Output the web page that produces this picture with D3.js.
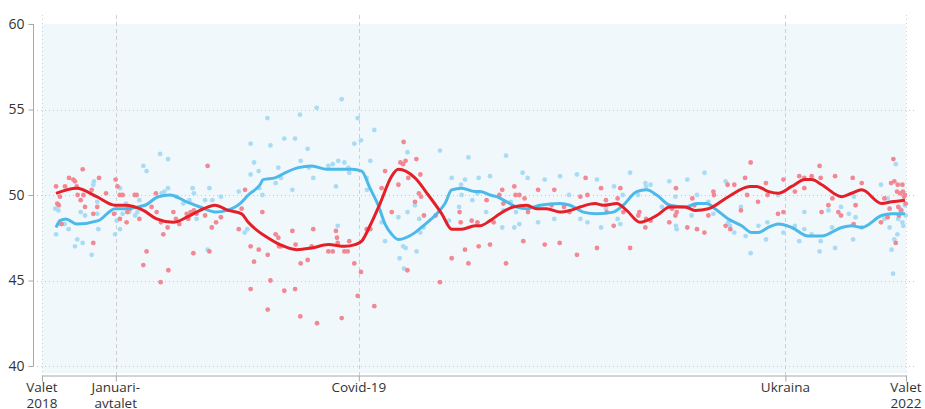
<!DOCTYPE html>
<html>
<head>
<meta charset="utf-8">
<script src="https://cdn.jsdelivr.net/npm/d3@7"></script>
<style>
  html, body { margin: 0; padding: 0; background: #ffffff; }
  svg { display: block; }
  text { font-family: "Open Sans", "Noto Sans", sans-serif; fill: #333333; }
</style>
</head>
<body>
<svg id="chart" width="925" height="409"></svg>
<script>
// x values are months since the 2018 election (Valet 2018 = 0, Valet 2022 = 48)
const yTicks = [40, 45, 50, 55, 60];
const eventMonths = [0, 4.1, 17.6, 41.3, 48];
const eventLabels = [["Valet", "2018"], ["Januari-", "avtalet"], ["Covid-19"], ["Ukraina"], ["Valet", "2022"]];

const redTrend = [
  [0.78,50.1],[1.93,50.4],[3.04,49.9],[4.06,49.4],[4.61,49.4],[5.63,49.1],[6.37,48.6],[7.29,48.4],
  [8.04,48.7],[8.78,49.1],[9.61,49.4],[10.35,49.1],[11.09,48.9],[11.46,48.4],[12.11,47.8],[12.39,47.6],
  [13.22,47.1],[14.15,46.8],[14.98,46.9],[15.91,47.1],[16.83,47.0],[17.39,47.1],[17.76,47.3],[18.22,48.2],
  [18.78,49.5],[19.43,51.1],[19.79,51.5],[20.72,51.0],[21.46,50.0],[22.21,48.9],[22.76,48.0],[23.32,48.0],
  [24.06,48.2],[24.33,48.2],[24.89,48.5],[25.44,48.9],[26.18,49.3],[26.93,49.4],[27.48,49.2],[28.04,49.2],
  [28.78,49.0],[29.33,49.1],[29.89,49.3],[30.72,49.5],[31.18,49.4],[31.93,49.5],[32.48,49.1],[33.22,48.4],
  [33.59,48.5],[34.15,48.8],[34.89,49.3],[35.72,49.3],[36.28,49.1],[37.02,49.2],[38.13,49.9],[39.33,50.5],
  [39.71,50.5],[40.37,50.2],[40.91,50.1],[41.65,50.5],[42.39,50.9],[42.76,50.9],[43.32,50.6],[44.43,49.9],
  [44.98,50.1],[45.54,50.3],[46.65,49.5],[47.2,49.6],[47.94,49.7]
];

const blueTrend = [
  [0.78,48.1],[1.0,48.5],[1.33,48.6],[1.93,48.3],[3.13,48.5],[4.06,49.2],[4.61,49.2],[5.72,49.4],
  [6.46,49.9],[7.11,50.0],[8.04,49.6],[8.78,49.3],[9.71,49.0],[10.26,49.1],[11.0,49.5],[11.46,50.0],
  [12.11,50.6],[12.29,50.9],[12.94,51.0],[13.5,51.3],[14.24,51.6],[14.98,51.7],[15.82,51.5],[16.37,51.5],
  [17.21,51.5],[17.76,51.4],[18.22,50.4],[18.68,49.4],[19.06,48.3],[19.43,47.7],[19.79,47.4],[20.72,47.8],
  [21.18,48.2],[21.93,48.9],[22.39,49.5],[22.76,50.3],[23.32,50.4],[24.06,50.2],[24.33,50.2],[24.89,50.0],
  [25.26,49.9],[25.82,49.6],[26.37,49.3],[26.93,49.2],[27.67,49.4],[28.78,49.5],[29.33,49.4],[30.07,49.0],
  [30.82,48.9],[31.74,49.0],[32.29,49.4],[33.04,50.2],[33.59,50.3],[34.15,50.0],[34.89,49.4],[35.72,49.3],
  [36.37,49.5],[36.93,49.5],[37.39,49.2],[38.13,48.6],[38.87,48.2],[39.43,47.8],[39.79,47.8],[40.35,48.1],
  [40.91,48.3],[41.65,48.1],[42.57,47.6],[43.32,47.6],[44.43,48.1],[44.98,48.2],[45.54,48.1],[46.65,48.8],
  [47.2,48.9],[47.94,48.9]
];

const redPolls = [
  [0.78,50.5],[0.85,49.5],[0.93,49.4],[1.0,49.9],[1.09,48.3],[1.28,50.5],[1.5,51.0],[1.74,50.9],[1.83,50.8],
  [1.93,50.5],[1.98,50.0],[2.15,49.7],[2.26,51.5],[2.3,50.0],[2.39,49.3],[2.76,50.3],[2.85,48.9],[2.85,47.2],
  [3.07,49.3],[3.17,51.0],[3.56,50.1],[4.0,48.9],[4.09,50.9],[4.19,50.5],[4.33,48.6],[4.33,50.0],[4.48,50.0],
  [4.7,48.4],[4.74,49.0],[4.89,49.2],[5.15,50.0],[5.26,50.0],[5.41,48.6],[5.63,45.9],[5.81,46.7],[6.09,49.3],
  [6.33,50.1],[6.37,49.0],[6.59,44.9],[6.61,48.4],[6.74,47.7],[6.98,48.1],[7.02,45.6],[7.3,49.0],[7.44,48.6],
  [7.63,48.3],[8.04,48.9],[8.13,48.6],[8.26,49.0],[8.41,46.6],[8.44,49.1],[8.59,48.9],[9.06,48.8],[9.2,51.7],
  [9.3,46.7],[9.43,48.1],[9.67,48.4],[9.94,48.7],[10.93,48.0],[11.09,49.2],[11.28,50.3],[11.59,47.0],
  [11.59,44.5],[11.78,46.1],[12.04,46.8],
  [12.24,49.0],[12.54,46.5],[12.54,43.3],[12.69,45.0],[12.98,47.7],[13.13,47.5],[13.17,47.0],[13.28,47.0],
  [13.46,44.4],[13.91,47.9],[14.06,44.5],[14.09,47.1],[14.35,42.9],[14.37,46.0],[14.76,46.2],[14.98,47.0],
  [15.07,48.0],[15.28,42.5],[15.91,46.7],[16.15,46.7],[16.33,47.9],[16.39,47.5],[16.43,47.2],[16.65,42.8],
  [16.8,46.7],[16.98,46.7],[17.07,47.3],[17.35,46.0],[17.54,44.1],[17.72,45.5],[18.04,48.0],[18.24,48.0],
  [18.46,43.5],[18.87,50.4],[19.06,51.4],[19.43,49.0],[19.8,50.6],[19.91,51.9],[20.06,51.8],[20.09,53.1],
  [20.2,52.0],[20.3,45.6],[20.35,51.0],[20.8,52.1],[20.72,49.6],[20.94,50.1],[21.02,51.2],[21.06,49.9],
  [21.22,48.8],[21.87,48.8],[22.11,44.9],[22.76,46.3],[23.2,49.0],[23.26,48.4],[23.5,46.8],[23.69,46.0],
  [23.87,48.5],
  [24.19,48.4],[24.26,47.0],[24.7,49.7],[24.89,47.1],[25.09,48.4],[25.41,50.0],[25.57,50.3],[25.63,49.5],
  [25.78,46.0],[26.24,50.5],[26.31,50.0],[26.52,50.0],[26.74,47.3],[26.81,49.8],[27.0,49.0],[27.56,50.3],
  [27.93,47.1],[28.31,49.4],[28.46,50.3],[28.76,47.2],[29.0,49.3],[29.3,49.0],[29.72,46.5],[29.91,49.9],
  [30.2,51.0],[30.3,50.0],[30.83,46.9],[31.06,50.4],[31.33,49.7],[31.37,49.0],[31.76,48.2],[31.98,49.8],
  [32.13,50.4],[32.3,49.0],[32.67,46.9],[33.13,48.8],[33.19,49.0],[33.52,48.1],[33.56,48.6],[33.81,48.5],
  [34.85,48.4],[35.0,49.2],[35.19,48.8],[35.22,50.4],[35.26,49.0],[35.85,48.1],
  [36.13,49.8],[36.24,49.4],[36.39,48.0],[36.8,47.8],[37.02,48.8],[37.3,50.2],[37.33,50.0],[37.98,48.2],
  [38.09,50.6],[38.24,48.0],[38.46,50.6],[38.83,49.1],[39.06,51.0],[39.17,50.0],[39.37,51.9],[39.78,49.6],
  [40.22,50.7],[40.31,50.0],[40.89,48.9],[41.19,49.0],[41.19,50.9],[41.83,50.2],[42.07,51.1],[42.35,50.4],
  [42.35,51.0],[42.76,51.1],[43.2,51.7],[43.26,51.0],[43.31,49.0],[43.69,49.4],[43.91,49.8],[44.06,51.1],
  [44.24,49.0],[44.39,48.8],[45.04,51.0],[45.2,49.4],[45.09,48.3],[45.54,50.7],[46.61,48.4],[46.8,49.8],
  [46.98,48.7],[47.09,49.2],[47.17,50.7],[47.35,50.8],[47.3,52.1],[47.43,47.2],[47.5,50.2],[47.54,50.6],
  [47.57,49.3],[47.61,48.8],[47.67,50.1],[47.72,49.1],[47.8,50.6],[47.83,50.2],[47.89,49.9],[47.94,50.0],
  [47.98,49.5]
];

const bluePolls = [
  [0.74,49.2],[0.78,47.7],[0.91,49.1],[1.0,48.3],[1.26,48.3],[1.48,48.0],[1.83,47.0],[1.96,47.4],[2.15,49.0],
  [2.26,47.2],[2.39,48.8],[2.76,46.5],[2.85,50.6],[2.89,50.8],[3.07,49.6],[3.07,48.9],[3.13,48.0],[4.06,47.7],
  [4.15,48.5],[4.33,50.4],[4.33,48.0],[4.48,48.9],[4.67,49.5],[4.85,49.0],[5.17,48.8],[5.3,49.0],[5.41,49.7],
  [5.63,51.7],[5.81,51.4],[6.56,52.4],[6.65,50.1],[6.8,50.2],[7.0,52.1],[7.0,50.4],[7.48,49.9],[7.85,49.5],
  [8.19,49.7],[8.37,50.4],[8.44,50.1],[8.59,48.6],[9.06,49.7],[9.2,46.8],[9.3,50.4],[9.46,49.7],[9.94,49.9],
  [10.93,50.2],[11.26,47.8],[11.41,48.0],[11.59,53.0],[11.59,51.2],[11.78,51.9],[12.04,51.4],[12.07,50.4],
  [12.52,54.5],[12.69,52.9],[12.24,50.0],[12.98,50.7],[13.13,51.6],[13.28,51.0],[13.46,53.3],[13.91,50.3],
  [14.06,53.3],[14.33,54.7],[14.37,52.0],[14.76,52.7],[14.83,51.6],[15.07,51.0],[15.26,55.1],[15.91,51.7],
  [16.15,51.8],[16.33,50.5],[16.43,48.2],[16.46,52.0],[16.65,55.6],[16.8,51.9],[17.02,51.6],[17.07,51.3],
  [17.35,53.0],[17.54,54.5],[17.72,53.2],[18.04,51.0],[18.05,50.3],[18.24,52.0],[18.46,53.8],[18.87,48.4],
  [19.06,47.3],[19.8,48.7],[19.87,46.3],[20.06,47.0],[20.11,45.7],[20.2,46.9],[20.3,52.5],[20.31,49.0],
  [20.72,49.4],[20.81,46.7],[20.96,48.6],[21.02,47.8],[21.19,48.1],[22.11,52.6],[22.61,48.5],[22.76,51.0],
  [23.17,49.3],[23.28,50.6],[23.31,50.0],[23.5,50.9],[23.69,52.2],[23.91,49.7],
  [24.19,50.1],[24.26,51.0],[24.67,49.0],[24.89,51.1],[25.57,48.1],[25.63,49.1],[25.78,52.3],[26.04,49.6],
  [26.24,48.1],[26.33,49.0],[26.52,48.3],[26.7,51.3],[26.98,51.0],[27.56,48.4],[27.93,50.9],[28.46,48.6],
  [28.78,51.1],[29.28,50.0],[29.72,51.2],[29.91,48.6],[30.3,48.4],[30.83,50.9],[31.06,48.1],[31.33,49.2],
  [31.78,50.5],[31.98,48.6],[32.13,48.3],[32.26,50.0],[32.67,51.3],[33.11,50.0],[33.52,50.7],[33.56,50.5],
  [33.81,50.6],[34.44,49.3],[34.85,50.8],[35.19,49.9],[35.22,48.2],[35.26,48.0],[35.85,50.9],
  [36.09,48.8],[36.39,50.0],[36.81,51.3],[37.02,49.6],[37.3,48.9],[37.98,50.8],[38.13,48.4],[38.22,48.2],
  [38.46,47.8],[38.83,49.3],[39.09,47.6],[39.37,46.6],[39.8,48.2],[40.22,47.4],[40.3,48.4],[40.89,50.0],
  [41.19,47.8],[41.83,48.2],[42.07,47.3],[42.35,49.0],[42.35,48.0],[42.76,47.7],[43.2,46.7],[43.26,47.3],
  [43.69,49.1],[43.89,48.1],[44.06,46.9],[44.39,49.3],[44.83,48.9],[45.06,47.4],[45.11,49.9],[45.2,48.7],
  [45.54,48.1],[46.61,50.6],[46.8,48.6],[46.98,49.8],[47.09,48.1],[47.2,46.8],[47.35,47.4],[47.43,51.8],
  [47.28,45.4],[47.52,47.7],[47.57,48.6],[47.67,49.2],[47.76,49.1],[47.8,48.4],[47.85,48.2],[47.94,49.4],
  [47.98,48.8]
];

const svg = d3.select("#chart");
const x = d3.scaleLinear().domain([0, 48]).range([42, 906]);
const y = d3.scaleLinear().domain([40, 60]).range([366, 24]);

// plot background
svg.append("rect")
  .attr("x", x(0)).attr("y", y(60))
  .attr("width", x(48) - x(0)).attr("height", 373 - y(60))
  .attr("fill", "#f1f8fc");

// horizontal dotted gridlines
svg.append("g").selectAll("line").data(yTicks.filter(d => d < 60)).join("line")
  .attr("x1", 33).attr("x2", 914)
  .attr("y1", d => Math.round(y(d)) + 0.5).attr("y2", d => Math.round(y(d)) + 0.5)
  .attr("stroke", "#c8c8c8").attr("stroke-width", 1).attr("stroke-dasharray", "1,3");

// vertical event lines
svg.append("g").selectAll("line").data(eventMonths).join("line")
  .attr("x1", d => Math.round(x(d)) + 0.5).attr("x2", d => Math.round(x(d)) + 0.5)
  .attr("y1", 15).attr("y2", 375)
  .attr("stroke", "#d0d0d0")
  .attr("stroke-width", 1)
  .attr("stroke-dasharray", (d, i) => (i === 0 || i === eventMonths.length - 1) ? "1,3" : "4,3");

// y axis
const yAxis = d3.axisLeft(y).tickValues(yTicks).tickSize(5).tickPadding(4).tickFormat(d3.format("d"));
const gy = svg.append("g").attr("transform", "translate(33.5,0)").call(yAxis);
gy.select(".domain").attr("stroke", "#a8a8a8").attr("d", `M0,${y(60)}V${y(40)}`);
gy.selectAll(".tick line").attr("stroke", "#a8a8a8");
gy.selectAll(".tick text").attr("font-size", 14).attr("fill", "#333").attr("font-family", "'Open Sans', sans-serif");

// x axis
const xAxis = d3.axisBottom(x).tickValues(eventMonths).tickSize(6).tickFormat("");
const gx = svg.append("g").attr("transform", "translate(0,375.5)").call(xAxis);
gx.select(".domain").attr("stroke", "#a8a8a8");
gx.selectAll(".tick line").attr("stroke", "#a8a8a8");

// x labels: one text element per line
const labelLines = [];
eventMonths.forEach((m, i) => eventLabels[i].forEach((s, k) => labelLines.push({ m, s, k })));
svg.append("g").selectAll("text").data(labelLines).join("text")
  .attr("x", d => x(d.m)).attr("y", d => 392 + d.k * 16)
  .attr("text-anchor", "middle").attr("font-size", 13.5)
  .text(d => d.s);

// scatter dots
svg.append("g").selectAll("circle").data(bluePolls).join("circle")
  .attr("cx", d => x(d[0])).attr("cy", d => y(d[1])).attr("r", 2.4)
  .attr("fill", "#a9dcf4");
svg.append("g").selectAll("circle").data(redPolls).join("circle")
  .attr("cx", d => x(d[0])).attr("cy", d => y(d[1])).attr("r", 2.4)
  .attr("fill", "#f28893");

// trend lines
const line = d3.line().x(d => x(d[0])).y(d => y(d[1])).curve(d3.curveMonotoneX);
svg.append("path").datum(blueTrend).attr("d", line)
  .attr("fill", "none").attr("stroke", "#4cb9ea").attr("stroke-width", 3).attr("stroke-linejoin", "round");
svg.append("path").datum(redTrend).attr("d", line)
  .attr("fill", "none").attr("stroke", "#e41f27").attr("stroke-width", 3).attr("stroke-linejoin", "round");
</script>
</body>
</html>
